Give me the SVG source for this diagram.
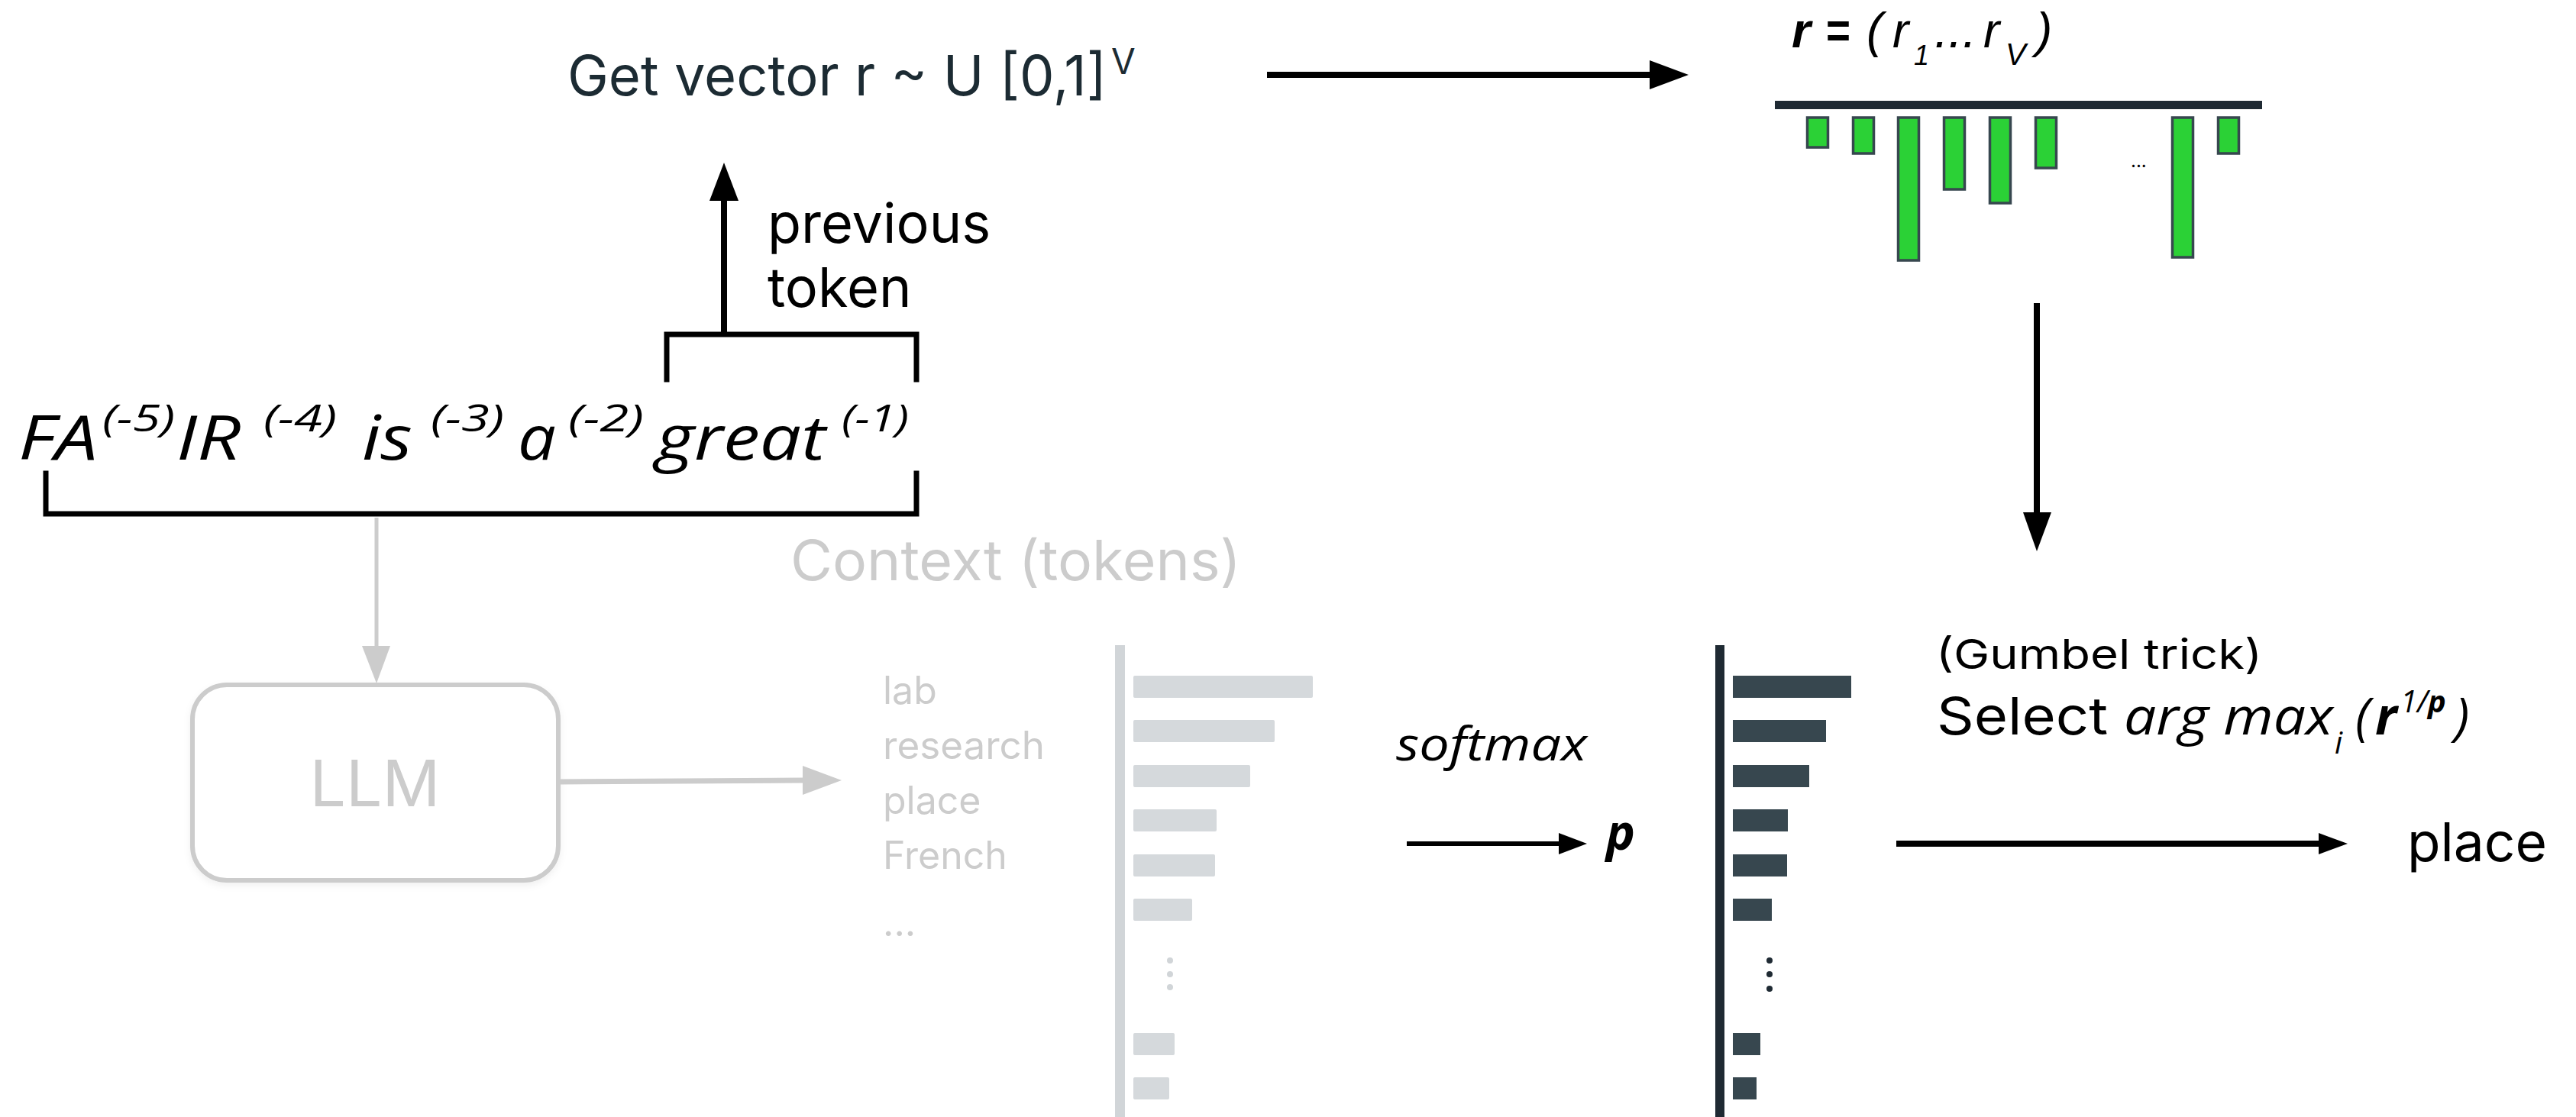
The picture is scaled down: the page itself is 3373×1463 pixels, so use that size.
<svg xmlns="http://www.w3.org/2000/svg" width="3373" height="1463" viewBox="0 0 3373 1463">
<defs>
<style>
.t{font-family:Inter,"Open Sans","Liberation Sans",sans-serif;fill:#000}
.m{font-family:"Open Sans","Liberation Sans",sans-serif;font-style:italic;fill:#000}
.v{font-family:"Liberation Sans",Arial,sans-serif;font-style:italic;fill:#000}
.b{font-weight:bold}
.dk{fill:#1c2b33}
.gr{fill:#cccccc}
.ln{stroke:#000;stroke-width:8;fill:none}
.lnt{stroke:#000;stroke-width:6;fill:none}
.lg{stroke:#cccccc;fill:none}
.br{stroke:#000;stroke-width:7;fill:none;stroke-linecap:square}
.gb{fill:#2bd136;stroke:#37474f;stroke-width:3.5}
.lb{fill:#d5d9dc}
.db{fill:#37474f}
.mt{font-size:80px}
.sp{font-size:50px}
</style>
<filter id="sh" x="-10%" y="-10%" width="120%" height="130%">
<feDropShadow dx="0" dy="4" stdDeviation="5" flood-color="#000" flood-opacity="0.06"/>
</filter>
</defs>
<rect width="3373" height="1463" fill="#fff"/>

<g id="sample-label">
<text class="t dk" x="743" y="125" font-size="73" textLength="706" lengthAdjust="spacingAndGlyphs">Get vector r ~ U [0,1]</text>
<text class="t dk" x="1455" y="97" font-size="46">V</text>
</g>

<g id="r-vector">
<text class="v b" x="2346" y="62" font-size="64">r</text>
<text class="v b" x="2390" y="62" font-size="64" textLength="32" lengthAdjust="spacingAndGlyphs">=</text>
<text class="v" x="2444" y="62" font-size="64">(</text>
<text class="v" x="2478" y="62" font-size="64">r</text>
<text class="v" x="2506" y="85" font-size="36">1</text>
<text class="v" x="2533" y="62" font-size="64" textLength="55" lengthAdjust="spacingAndGlyphs">...</text>
<text class="v" x="2597" y="62" font-size="64">r</text>
<text class="v" x="2626" y="85" font-size="40">V</text>
<text class="v" x="2666" y="62" font-size="64">)</text>
<rect x="2324" y="132" width="638" height="11" fill="#1f2a33"/>
<rect class="gb" x="2366.5" y="154" width="27" height="39"/>
<rect class="gb" x="2426.5" y="154" width="27" height="47"/>
<rect class="gb" x="2485.5" y="154" width="27" height="187"/>
<rect class="gb" x="2545.5" y="154" width="27" height="94"/>
<rect class="gb" x="2605.5" y="154" width="27" height="112"/>
<rect class="gb" x="2665.5" y="154" width="27" height="66"/>
<rect class="gb" x="2844.5" y="154" width="27" height="183"/>
<rect class="gb" x="2904.5" y="154" width="27" height="47"/>
<text class="t" x="2790" y="219" font-size="24">...</text>
</g>

<g id="previous-token-label">
<text class="t" x="1005" y="318" font-size="72">previous</text>
<text class="t" x="1005" y="402" font-size="72">token</text>
</g>

<g id="context">
<text class="m mt" x="24" y="602" textLength="104" lengthAdjust="spacingAndGlyphs">FA</text>
<text class="m sp" x="134" y="565" textLength="95" lengthAdjust="spacingAndGlyphs">(-5)</text>
<text class="m mt" x="231" y="602" textLength="84" lengthAdjust="spacingAndGlyphs">IR</text>
<text class="m sp" x="345" y="565" textLength="96" lengthAdjust="spacingAndGlyphs">(-4)</text>
<text class="m mt" x="474" y="602" textLength="66" lengthAdjust="spacingAndGlyphs">is</text>
<text class="m sp" x="564" y="565" textLength="96" lengthAdjust="spacingAndGlyphs">(-3)</text>
<text class="m mt" x="678" y="602" textLength="50" lengthAdjust="spacingAndGlyphs">a</text>
<text class="m sp" x="744" y="565" textLength="99" lengthAdjust="spacingAndGlyphs">(-2)</text>
<text class="m mt" x="859" y="602" textLength="222" lengthAdjust="spacingAndGlyphs">great</text>
<text class="m sp" x="1102" y="565" textLength="88" lengthAdjust="spacingAndGlyphs">(-1)</text>
<path class="br" d="M873,497 V438 H1200 V497"/>
<path class="br" d="M60,620 V673 H1200 V620"/>
<text class="t gr" x="1035" y="760" font-size="73" textLength="590" lengthAdjust="spacingAndGlyphs">Context (tokens)</text>
</g>

<g id="llm" filter="url(#sh)">
<rect x="252" y="897" width="479" height="256" rx="45" ry="45" fill="#fff" stroke="#cccccc" stroke-width="6"/>
<text class="t gr" x="491" y="1056" font-size="84" text-anchor="middle">LLM</text>
</g>

<g id="logits">
<text class="t gr" x="1156" y="922" font-size="50">lab</text>
<text class="t gr" x="1156" y="994" font-size="50" textLength="212" lengthAdjust="spacingAndGlyphs">research</text>
<text class="t gr" x="1156" y="1066" font-size="50">place</text>
<text class="t gr" x="1156" y="1138" font-size="50">French</text>
<text class="t gr" x="1156" y="1226" font-size="50">...</text>
<rect x="1460" y="845" width="13" height="618" fill="#d1d5d8"/>
<rect class="lb" x="1484" y="885" width="235" height="29" rx="2"/>
<rect class="lb" x="1484" y="943" width="185" height="29" rx="2"/>
<rect class="lb" x="1484" y="1002" width="153" height="29" rx="2"/>
<rect class="lb" x="1484" y="1060" width="109" height="29" rx="2"/>
<rect class="lb" x="1484" y="1119" width="107" height="29" rx="2"/>
<rect class="lb" x="1484" y="1177" width="77" height="29" rx="2"/>
<rect class="lb" x="1484" y="1353" width="54" height="29" rx="2"/>
<rect class="lb" x="1484" y="1411" width="47" height="29" rx="2"/>
<circle cx="1532" cy="1258" r="4" fill="#d1d5d8"/>
<circle cx="1532" cy="1276" r="4" fill="#d1d5d8"/>
<circle cx="1532" cy="1293" r="4" fill="#d1d5d8"/>
</g>

<g id="softmax-label">
<text class="m" x="1828" y="996" font-size="60" textLength="250" lengthAdjust="spacingAndGlyphs">softmax</text>
<text class="m b" x="2103" y="1113" font-size="64">p</text>
</g>

<g id="probabilities">
<rect x="2246" y="845" width="12" height="618" fill="#1f2a33"/>
<rect class="db" x="2269" y="885" width="155" height="29"/>
<rect class="db" x="2269" y="943" width="122" height="29"/>
<rect class="db" x="2269" y="1002" width="100" height="29"/>
<rect class="db" x="2269" y="1060" width="72" height="29"/>
<rect class="db" x="2269" y="1119" width="71" height="29"/>
<rect class="db" x="2269" y="1177" width="51" height="29"/>
<rect class="db" x="2269" y="1353" width="36" height="29"/>
<rect class="db" x="2269" y="1411" width="31" height="29"/>
<circle cx="2317" cy="1258" r="4" fill="#1f2a33"/>
<circle cx="2317" cy="1276" r="4" fill="#1f2a33"/>
<circle cx="2317" cy="1295" r="4" fill="#1f2a33"/>
</g>

<g id="gumbel-label">
<text class="t" x="2535" y="876" font-size="54" textLength="427" lengthAdjust="spacingAndGlyphs">(Gumbel trick)</text>
<text class="t" x="2536" y="962" font-size="68" textLength="224" lengthAdjust="spacingAndGlyphs">Select</text>
<text class="m" x="2781" y="962" font-size="68" textLength="274" lengthAdjust="spacingAndGlyphs">arg max</text>
<text class="m" x="3057" y="987" font-size="40">i</text>
<text class="m" x="3084" y="962" font-size="68">(</text>
<text class="m b" x="3110" y="962" font-size="68">r</text>
<text class="m" x="3143" y="933" font-size="40">1/<tspan class="b">p</tspan></text>
<text class="m" x="3214" y="962" font-size="68">)</text>
</g>

<g id="output">
<text class="t" x="3152" y="1128" font-size="70" textLength="183" lengthAdjust="spacingAndGlyphs">place</text>
</g>

<g id="connectors">
<line class="ln" x1="1659" y1="98" x2="2162" y2="98"/>
<polygon points="2160,79 2160,117 2211,98"/>
<line class="ln" x1="948" y1="438" x2="948" y2="261"/>
<polygon points="929,263 967,263 948,213"/>
<line class="ln" x1="2667" y1="397" x2="2667" y2="673"/>
<polygon points="2649,671 2686,671 2667,722"/>
<line class="lg" stroke-width="5" x1="493" y1="678" x2="493" y2="848"/>
<polygon points="474,846 511,846 493,895" fill="#cccccc"/>
<line class="lg" stroke-width="7" x1="731" y1="1024" x2="1053" y2="1022"/>
<polygon points="1051,1003 1051,1041 1102,1022" fill="#cccccc"/>
<line class="lnt" x1="1842" y1="1105" x2="2043" y2="1105"/>
<polygon points="2041,1091 2041,1119 2078,1105"/>
<line class="ln" stroke-width="7" x1="2483" y1="1105" x2="3038" y2="1105"/>
<polygon points="3036,1091 3036,1119 3074,1105"/>
</g>
</svg>
